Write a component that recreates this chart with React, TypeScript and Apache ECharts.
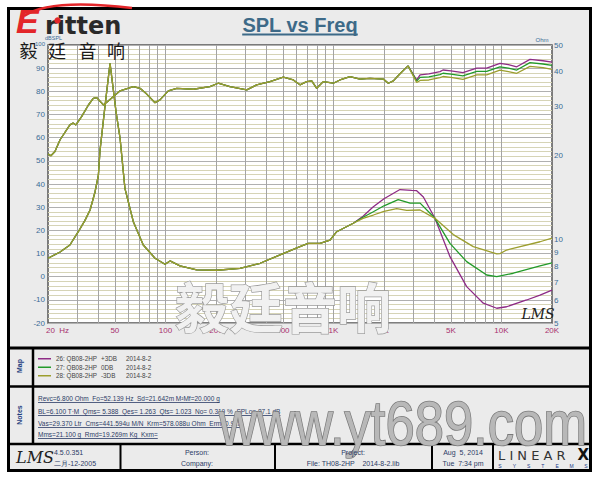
import React, { useEffect, useRef } from 'react';
import * as echarts from 'echarts';

// ---------------- Data ----------------
// SPL curves (dB, left axis) - identical below ~3 kHz
const splFreqShared = [20, 20.8, 22, 23.6, 27, 28.2, 29.3, 31.7, 34.8, 37.2, 39, 42.8, 48.9, 53.7, 64.4, 70.6, 77.4, 86.7, 92.8, 104, 116.7, 146.6, 184, 206, 242, 305, 349, 419, 503, 577, 632, 693, 743, 795, 870, 998, 1094, 1255, 1439, 1650, 1981, 2122, 2273, 2490, 2780];
const splShared = [53.0, 52.2, 54.0, 59.1, 65.5, 66.3, 65.5, 69.1, 74.1, 77.0, 77.3, 74.1, 77.7, 80.2, 82.0, 81.3, 78.8, 75.1, 76.3, 80.2, 81.3, 80.9, 82.0, 83.5, 82.0, 80.6, 82.8, 84.2, 86.1, 84.9, 82.8, 84.2, 84.5, 81.3, 84.2, 83.5, 84.9, 86.3, 85.3, 85.6, 85.3, 83.5, 84.5, 87.6, 91.0];
const splFreqHigh = [3130, 3280, 3700, 4308, 4490, 5000, 5900, 7130, 8170, 9800, 11000, 12340, 14790, 17670, 20000];
const splPurpleHigh = [84.9, 87.1, 87.5, 88.5, 89.2, 88.8, 88.1, 90.0, 90.0, 92.1, 91.5, 90.6, 93.8, 93.2, 92.6];
const splGreenHigh = [84.4, 86.0, 86.2, 87.2, 87.8, 87.4, 86.7, 88.6, 88.6, 90.6, 90.0, 89.2, 92.4, 91.8, 91.2];
const splYellowHigh = [83.8, 84.7, 84.9, 85.9, 86.4, 86.0, 85.2, 87.1, 87.1, 89.2, 88.5, 87.8, 90.8, 90.2, 89.5];

// Impedance curves (Ohm, right log axis) - identical below ~1.3 kHz
const impFreqShared = [20, 23.6, 27, 30.3, 33.2, 35.6, 38.1, 39.9, 40.8, 43.7, 46.8, 48.7, 50.8, 53.7, 57.4, 64.4, 73.8, 86.7, 99.4, 106.5, 122, 153.5, 202, 278, 366, 481, 632, 708, 832, 954, 1046, 1313];
const impShared = [8.55, 9.0, 9.54, 10.65, 11.7, 12.75, 14.8, 17.0, 20.9, 30.2, 43.0, 35.4, 28.8, 23.1, 15.25, 11.57, 9.54, 8.55, 8.13, 8.36, 8.03, 7.76, 7.74, 7.86, 8.2, 8.79, 9.41, 9.67, 9.67, 9.94, 10.65, 11.42];
const impPurpleFreq = [1500, 1728, 2000, 2490, 2924, 3130, 3430, 4020, 4940, 6210, 7800, 9380, 10740, 14130, 16970, 20000];
const impPurple = [12.1, 13.1, 14.0, 15.1, 15.0, 14.96, 14.2, 11.9, 8.66, 6.76, 5.89, 5.65, 5.72, 6.05, 6.3, 6.57];
const impGreenFreq = [1500, 1728, 2000, 2430, 2860, 3280, 4020, 4940, 6210, 8170, 9380, 11770, 16970, 20000];
const impGreen = [12.0, 12.57, 13.2, 13.9, 13.5, 13.5, 11.9, 9.67, 8.31, 7.44, 7.34, 7.55, 8.02, 8.22];
const impYellowFreq = [1500, 1728, 2000, 2380, 2730, 3280, 4020, 5170, 6800, 9380, 9800, 10740, 16970, 20000];
const impYellow = [11.9, 12.23, 12.6, 12.9, 12.7, 12.75, 11.9, 10.4, 9.41, 8.86, 8.88, 9.15, 9.8, 10.1];

// Axis ticks / labels
const xGridValues = [30, 40, 50, 60, 70, 80, 90, 100, 200, 300, 400, 500, 600, 700, 800, 900, 1000, 2000, 3000, 4000, 5000, 6000, 7000, 8000, 9000, 10000];
const xLabelValues = [20, 50, 100, 200, 500, 1000, 2000, 5000, 10000, 20000];
const xLabelTexts = ['20  Hz', '50', '100', '200', '500', '1K', '2K', '5K', '10K', '20K'];
const ohmTicks = [5, 6, 7, 8, 9, 10, 20, 30, 40, 50];
const dbMinorStep = 2;

// Legend (Map) entries
const legendIds = ['26: QB08-2HP', '27: QB08-2HP', '28: QB08-2HP'];
const legendTags = ['+3DB', '0DB', '-3DB'];
const legendDates = ['2014-8-2', '2014-8-2', '2014-8-2'];
const curveColors = ['#8e2c86', '#229a2a', '#9c9e2e'];

// Notes
const notesLines = [
  'Revc=6.800 Ohm  Fo=52.139 Hz  Sd=21.642m M²Mf=20.000 g',
  'BL=6.100 T·M  Qms= 5.388  Qes= 1.263  Qts= 1.023  No= 0.319 %  SPLo= 87.1 dB',
  'Vas=29.370 Ltr  Cms=441.594u M/N  Krm=578.088u Ohm  Erm=0.918',
  'Mms=21.100 g  Rmd=19.269m Kg  Kxm=',
];

const pairs = (fs: number[], vs: number[]) => fs.map((f, i) => [f, vs[i]]);

export default function App() {
  const ref = useRef<HTMLDivElement>(null);
  useEffect(() => {
    if (!ref.current) return;
    const chart = echarts.init(ref.current, null, { renderer: 'svg' });
    const cv = document.createElement('canvas');
    const ctx = cv.getContext('2d') as CanvasRenderingContext2D;
    const measure = (t: string, size: number, family = 'Liberation Sans', weight = 'normal') => {
      ctx.font = `${weight} ${size}px "${family}"`;
      return ctx.measureText(t).width;
    };

    const legendNames = legendIds.map((id, i) => `${id} ${legendTags[i]} ${legendDates[i]}`);
    const splHigh = [splPurpleHigh, splGreenHigh, splYellowHigh];
    const impHighF = [impPurpleFreq, impGreenFreq, impYellowFreq];
    const impHighV = [impPurple, impGreen, impYellow];

    const lineSeries: any[] = [];
    for (let i = 0; i < 3; i++) {
      lineSeries.push({
        type: 'line', name: legendNames[i], yAxisIndex: 0, symbol: 'none', silent: true, z: 5,
        lineStyle: { color: curveColors[i], width: 1.3 }, itemStyle: { color: curveColors[i] },
        data: pairs(splFreqShared, splShared).concat(pairs(splFreqHigh, splHigh[i])),
      });
      lineSeries.push({
        type: 'line', name: legendNames[i], yAxisIndex: 1, symbol: 'none', silent: true, z: 5,
        lineStyle: { color: curveColors[i], width: 1.3 }, itemStyle: { color: curveColors[i] },
        data: pairs(impFreqShared, impShared).concat(pairs(impHighF[i], impHighV[i])),
      });
    }

    const blue = '#3a6b96';
    const navy = '#2b3b66';
    const clear = 'rgba(0,0,0,0)';
    const minorDb: number[] = [];
    for (let v = -20 + dbMinorStep; v < 100; v += dbMinorStep) if (v % 10 !== 0) minorDb.push(v);

    const minorCarrier = {
      type: 'line', name: 'ygrid', data: [], z: 1, silent: true, xAxisIndex: 0, yAxisIndex: 0,
      markLine: {
        silent: true, symbol: ['none', 'none'], animation: false,
        lineStyle: { color: '#d6d4b6', width: 1, type: 'solid' },
        label: { show: false },
        data: minorDb.map((v) => ({ yAxis: v })),
      },
    };
    const gridCarrier = {
      type: 'line', name: 'xgrid', data: [], z: 2, silent: true, xAxisIndex: 0, yAxisIndex: 0,
      markLine: {
        silent: true, symbol: ['none', 'none'], animation: false,
        lineStyle: { color: '#a4a4a4', width: 1, type: 'solid' },
        label: { show: false },
        data: xGridValues.map((v) => ({ xAxis: v })),
      },
    };
    const xLabelCarrier = {
      type: 'line', name: 'xlabels', data: [], z: 2, silent: true, xAxisIndex: 0, yAxisIndex: 0,
      markLine: {
        silent: true, symbol: ['none', 'none'], animation: false,
        lineStyle: { color: clear, width: 0 },
        data: xLabelValues.map((v, i) => ({
          xAxis: v,
          lineStyle: { color: clear, width: 0 },
          label: {
            show: true, position: 'start', distance: 3, formatter: xLabelTexts[i],
            color: '#a8306e', fontSize: 8, fontFamily: 'Liberation Sans',
            ...(i === 0 ? { align: 'left', offset: [-2, 0] } : {}),
          },
        })),
      },
    };
    const ohmCarrier = {
      type: 'line', name: 'ohm', data: [], z: 2, silent: true, xAxisIndex: 0, yAxisIndex: 1,
      markLine: {
        silent: true, symbol: ['none', 'none'], animation: false,
        lineStyle: { color: clear, width: 0 },
        data: ohmTicks.map((v) => ({
          yAxis: v,
          lineStyle: { color: clear, width: 0 },
          label: { show: true, position: 'end', distance: 2, formatter: String(v), color: blue, fontSize: 8, fontFamily: 'Liberation Sans' },
        })),
      },
    };

    const titleW = measure('SPL vs Freq', 20, 'Liberation Sans', 'bold');
    const urlText = 'www.yt689.com';
    const urlSize = 56 * 368 / measure(urlText, 56, 'Liberation Sans', 'normal');

    const g: any[] = [];
    // frame & panels
    g.push({ type: 'rect', z: -10, silent: true, shape: { x: 8.5, y: 8.5, width: 582, height: 462 }, style: { fill: '#ebebeb', stroke: '#000', lineWidth: 3 } });
    const hl = (y: number, x1: number, x2: number, w: number) => ({ type: 'line', z: 60, silent: true, shape: { x1, y1: y, x2, y2: y }, style: { stroke: '#000', lineWidth: w } });
    const vl = (x: number, y1: number, y2: number, w: number) => ({ type: 'line', z: 60, silent: true, shape: { x1: x, y1, x2: x, y2 }, style: { stroke: '#000', lineWidth: w } });
    g.push(hl(348, 8, 591, 3), hl(386.5, 8, 591, 2.5), hl(444, 8, 591, 2.5));
    g.push(vl(33, 348, 444, 2.5));
    [120.5, 275, 432, 493].forEach((x) => g.push(vl(x, 444, 471, 2)));

    // title
    g.push({ type: 'text', z: 60, x: 300, y: 25, style: { text: 'SPL vs Freq', fontSize: 20, fontWeight: 'bold', fontFamily: 'Liberation Sans', fill: '#3d6a88', align: 'center', verticalAlign: 'middle' } });
    g.push({ type: 'line', z: 60, shape: { x1: 300 - titleW / 2, y1: 34.5, x2: 300 + titleW / 2, y2: 34.5 }, style: { stroke: '#3d6a88', lineWidth: 2 } });

    // logo
    g.push({ type: 'bezierCurve', z: 61, shape: { x1: 24, y1: 16, cpx1: 50, cpy1: -2, x2: 132, y2: 8 }, style: { stroke: '#e3262a', lineWidth: 2.5, fill: 'none' } });
    g.push({ type: 'text', z: 62, x: 16, y: 38, style: { text: 'E', fontSize: 34, fontWeight: 'bold', fontStyle: 'italic', fontFamily: 'Liberation Sans', fill: '#e3262a', align: 'left', verticalAlign: 'bottom' } });
    g.push({ type: 'text', z: 62, x: 45, y: 38, style: { text: 'ritten', fontSize: 24, fontWeight: 'bold', fontFamily: 'DejaVu Sans', fill: '#2a2a2a', align: 'left', verticalAlign: 'bottom' } });
    g.push({ type: 'circle', z: 63, shape: { cx: 57.5, cy: 20.5, r: 3.2 }, style: { fill: '#e3262a' } });
    ['毅', '廷', '音', '响'].forEach((c, i) => g.push({ type: 'text', z: 62, x: [28.5, 57, 87.5, 116][i], y: 50, style: { text: c, fontSize: 18, fontFamily: 'Noto Sans CJK SC', fill: '#1a1a1a', align: 'center', verticalAlign: 'middle' } }));

    // Ohm unit
    g.push({ type: 'text', z: 60, x: 542, y: 40, style: { text: 'Ohm', fontSize: 6, fontFamily: 'Liberation Sans', fill: blue, align: 'center', verticalAlign: 'middle' } });

    // watermark in plot
    g.push({ type: 'text', z: 40, x: 283, y: 305, style: { text: '毅廷音响', fontSize: 54, fontWeight: 'bold', fontFamily: 'Noto Sans CJK SC', fill: '#f1f1f1', stroke: '#9a9a9a', lineWidth: 1.3, align: 'center', verticalAlign: 'middle' } });
    // LMS script in plot
    g.push({ type: 'text', z: 41, x: 538, y: 314, style: { text: 'LMS', fontSize: 14, fontStyle: 'italic', fontFamily: 'DejaVu Serif', fill: '#222', align: 'center', verticalAlign: 'middle' } });

    // section labels
    g.push({ type: 'text', z: 60, x: 19, y: 366, rotation: Math.PI / 2, style: { text: 'Map', fontSize: 7, fontWeight: 'bold', fontFamily: 'Liberation Sans', fill: '#1f3f7f', align: 'center', verticalAlign: 'middle' } });
    g.push({ type: 'text', z: 60, x: 19, y: 415, rotation: Math.PI / 2, style: { text: 'Notes', fontSize: 7, fontWeight: 'bold', fontFamily: 'Liberation Sans', fill: '#1f3f7f', align: 'center', verticalAlign: 'middle' } });

    // notes
    [398, 411, 423, 434].forEach((y, i) => {
      const w = measure(notesLines[i], 6.5);
      g.push({ type: 'text', z: 60, x: 38, y, style: { text: notesLines[i], fontSize: 6.5, fontFamily: 'Liberation Sans', fill: navy, align: 'left', verticalAlign: 'middle' } });
      g.push({ type: 'line', z: 60, shape: { x1: 38, y1: y + 4.5, x2: 38 + w, y2: y + 4.5 }, style: { stroke: navy, lineWidth: 0.8 } });
    });

    // url watermark
    g.push({ type: 'text', z: 70, x: 403, y: 423, scaleY: 1.18, style: { text: urlText, fontSize: urlSize, fontFamily: 'Liberation Sans', fill: '#b8b8b8', stroke: '#7a7a7a', lineWidth: 1.4, align: 'center', verticalAlign: 'middle' } });

    // footer
    const ft = (text: string, x: number, y: number, align = 'center') => ({ type: 'text', z: 80, x, y, style: { text, fontSize: 7, fontFamily: 'Liberation Sans', fill: navy, align, verticalAlign: 'middle' } });
    g.push({ type: 'text', z: 80, x: 16, y: 457, style: { text: 'LMS', fontSize: 16, fontStyle: 'italic', fontFamily: 'DejaVu Serif', fill: '#222', align: 'left', verticalAlign: 'middle' } });
    g.push(ft('4.5.0.351', 54, 452, 'left'), ft('二月-12-2005', 54, 463, 'left'));
    g.push(ft('Person:', 197, 452), ft('Company:', 197, 463));
    g.push(ft('Project:', 353, 452), ft('File: TH08-2HP    2014-8-2.lib', 353, 463));
    g.push(ft('Aug  5, 2014', 463, 452), ft('Tue  7:34 pm', 463, 463));
    g.push({ type: 'text', z: 80, x: 498, y: 455, style: { text: 'L I N E A R', fontSize: 13, fontFamily: 'DejaVu Sans', fill: '#333', align: 'left', verticalAlign: 'middle' } });
    g.push({ type: 'text', z: 80, x: 589, y: 455, style: { text: 'X', fontSize: 15, fontWeight: 'bold', fontFamily: 'DejaVu Sans', fill: '#111', align: 'right', verticalAlign: 'middle' } });
    'SYSTEMS'.split('').forEach((c, i) => g.push({ type: 'text', z: 80, x: 500 + i * 14.3, y: 466, style: { text: c, fontSize: 5, fontFamily: 'Liberation Sans', fill: '#1a3a8a', align: 'center', verticalAlign: 'middle' } }));

    const legendFont = { fontSize: 6.3, color: '#444', fontFamily: 'Liberation Sans' };
    const option: any = {
      animation: false,
      backgroundColor: '#ffffff',
      textStyle: { fontFamily: 'Liberation Sans' },
      grid: { left: 48, right: 48, top: 45, bottom: 157, show: true, backgroundColor: '#ffffff', borderColor: '#555555', borderWidth: 1.5, z: 0 },
      xAxis: {
        type: 'log', logBase: 10, min: 20, max: 20000,
        axisLine: { show: false }, axisTick: { show: false }, axisLabel: { show: false }, splitLine: { show: false },
      },
      yAxis: [
        {
          type: 'value', min: -20, max: 100, interval: 10,
          name: 'dBSPL', nameLocation: 'end', nameGap: 3,
          nameTextStyle: { fontSize: 5.5, color: blue, align: 'left', padding: [0, 0, 0, -3] },
          axisLine: { show: false },
          axisTick: { show: false },
          axisLabel: {
            fontSize: 8, color: blue, margin: 3,
            formatter: (v: number) => (v === 100 ? '{s|100}' : String(v)),
            rich: { s: { fontSize: 6, color: blue, padding: [0, 0, 3, 0] } },
          },
          splitLine: { show: true, lineStyle: { color: '#b0b0b0', width: 1 } },
        },
        {
          type: 'log', logBase: 10, min: 5, max: 50, position: 'right',
          axisLine: { show: false }, axisTick: { show: false }, axisLabel: { show: false }, splitLine: { show: false },
        },
      ],
      legend: {
        show: true, orient: 'vertical', left: 38, top: 355, padding: 0, itemWidth: 13, itemHeight: 1.5, itemGap: 1,
        icon: 'rect', selectedMode: false, data: legendNames,
        textStyle: {
          ...legendFont, lineHeight: 7.5,
          rich: {
            a: { ...legendFont, width: 45 },
            b: { ...legendFont, width: 25 },
            c: { ...legendFont },
          },
        },
        formatter: (name: string) => {
          const i = legendNames.indexOf(name);
          return `{a|${legendIds[i]}}{b|${legendTags[i]}}{c|${legendDates[i]}}`;
        },
      },
      graphic: g,
      series: [minorCarrier, gridCarrier, xLabelCarrier, ohmCarrier, ...lineSeries],
    };
    chart.setOption(option);
    return () => chart.dispose();
  }, []);
  return <div ref={ref} style={{ position: 'fixed', left: 0, top: 0, width: 600, height: 480 }} />;
}
